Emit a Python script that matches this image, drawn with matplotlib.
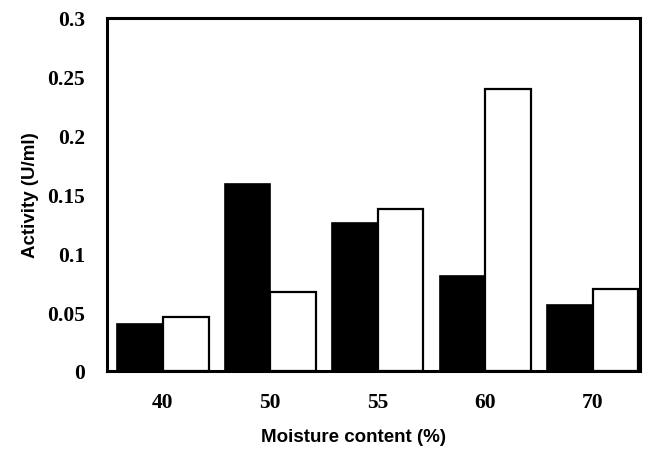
import numpy as np
import matplotlib
matplotlib.use('Agg')
import matplotlib.pyplot as plt

# data
moisture = ['40', '50', '55', '60', '70']
black_vals = [0.040, 0.159, 0.126, 0.081, 0.056]
white_vals = [0.046, 0.067, 0.138, 0.240, 0.070]
yticks = [0, 0.05, 0.1, 0.15, 0.2, 0.25, 0.3]
ytick_labels = ['0', '0.05', '0.1', '0.15', '0.2', '0.25', '0.3']

fig = plt.figure(figsize=(6.49, 4.52), dpi=100, facecolor='white')
ax = fig.add_axes([0.165, 0.177, 0.821, 0.781])

x = np.arange(len(moisture))
w = 0.425
ax.bar(x - w / 2, black_vals, w, color='black', edgecolor='black', linewidth=1.2)
ax.bar(x + w / 2, white_vals, w, color='white', edgecolor='black', linewidth=1.6)

ax.set_xlim(-0.52, 4.44)
ax.set_ylim(0, 0.3)
ax.set_yticks(yticks)
ax.set_yticklabels(ytick_labels)
ax.set_xticks(x)
ax.set_xticklabels(moisture)
ax.tick_params(length=0)
ax.tick_params(axis='y', pad=16)
ax.tick_params(axis='x', pad=15)
for lab in ax.get_xticklabels() + ax.get_yticklabels():
    lab.set_fontfamily('Liberation Serif')
    lab.set_fontweight('bold')
    lab.set_fontsize(15.5)

for s in ax.spines.values():
    s.set_linewidth(2.2)

ax.set_ylabel('Activity (U/ml)', family='Liberation Sans', fontweight='bold',
              fontsize=13.5, labelpad=5.5)
ax.set_xlabel('Moisture content (%)', family='Liberation Sans', fontweight='bold',
              fontsize=13.5, labelpad=12)
ax.xaxis.label.set_x(0.463)

plt.savefig('out.png', dpi=100)
